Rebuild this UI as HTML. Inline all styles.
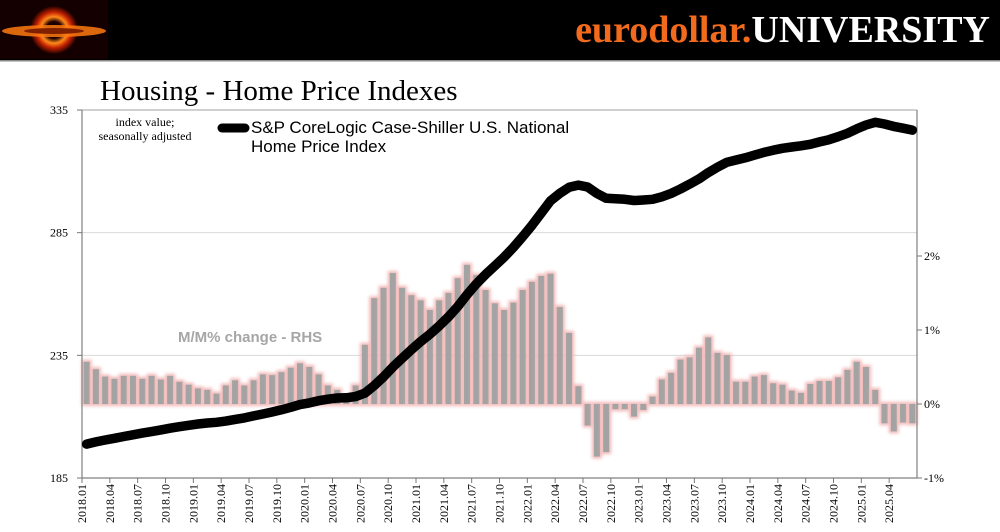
<!DOCTYPE html>
<html><head><meta charset="utf-8"><style>
html,body{margin:0;padding:0;background:#fff;width:1000px;height:532px;overflow:hidden}
svg{display:block}
</style></head><body>
<svg id="chart" width="1000" height="532" xmlns="http://www.w3.org/2000/svg">
<defs>
<radialGradient id="lg" cx="50%" cy="50%" r="50%"><stop offset="0" stop-color="#000"/><stop offset="0.35" stop-color="#200"/><stop offset="0.55" stop-color="#ff8a1a"/><stop offset="0.75" stop-color="#c02000"/><stop offset="1" stop-color="#1a0000"/></radialGradient>
<filter id="glow" x="-50%" y="-50%" width="200%" height="200%"><feGaussianBlur stdDeviation="1.5"/></filter>
</defs>
<rect x="0" y="0" width="1000" height="60" fill="#000"/>
<rect x="0" y="60" width="1000" height="1.5" fill="#888"/>
<g>
<rect x="0" y="0" width="108" height="59" fill="#140000"/>
<ellipse cx="54" cy="30" rx="24" ry="24" fill="url(#lg)"/>
<ellipse cx="54" cy="31" rx="52" ry="6" fill="#ff7a10" opacity="0.85"/>
<ellipse cx="54" cy="31" rx="30" ry="3" fill="#802000"/>
</g>
<text x="990" y="42" text-anchor="end" font-family="Liberation Serif, serif" font-weight="bold" font-size="38"><tspan fill="#f26a1b">eurodollar.</tspan><tspan fill="#fff">UNIVERSITY</tspan></text>
<text x="100" y="100" font-family="Liberation Serif, serif" font-size="29" fill="#000">Housing - Home Price Indexes</text>
<g id="grid"></g>
<g id="bars"></g>
<g id="axes"></g>
<g id="line"></g>
<text x="178" y="342" font-family="Liberation Sans, sans-serif" font-weight="bold" font-size="15" fill="#a6a6a6">M/M% change - RHS</text>
<text x="145" y="126" text-anchor="middle" font-family="Liberation Serif, serif" font-size="12">index value;</text>
<text x="145" y="140" text-anchor="middle" font-family="Liberation Serif, serif" font-size="12">seasonally adjusted</text>
<line x1="222" y1="128" x2="245" y2="128" stroke="#000" stroke-width="9" stroke-linecap="round"/>
<text x="251" y="133" font-family="Liberation Sans, sans-serif" font-size="17">S&amp;P CoreLogic Case-Shiller U.S. National</text>
<text x="251" y="152" font-family="Liberation Sans, sans-serif" font-size="17">Home Price Index</text>
</svg>
<script>
const categories = [];
for (let y = 2018; y <= 2025; y++) for (let m = 1; m <= 12; m++) { if (y === 2025 && m > 6) break; categories.push(y + '.' + String(m).padStart(2, '0')); }
const indexValues = [
198.8,199.7,200.5,201.2,201.9,202.6,203.3,203.9,204.6,205.3,205.9,206.5,
207.0,207.4,207.7,208.2,208.9,209.5,210.3,211.1,211.9,212.8,213.8,214.9,
215.6,216.5,217.1,217.6,217.7,218.2,219.6,222.7,226.2,230.2,233.8,237.3,
240.6,243.6,247.0,250.7,254.9,259.7,264.1,268.0,271.5,275.0,279.0,283.4,
288.0,293.0,298.0,301.0,303.5,304.4,303.6,301.0,299.0,298.8,298.6,298.1,
298.3,298.6,299.6,301.0,302.8,304.8,306.9,309.5,311.7,313.7,314.6,315.5,
316.6,317.7,318.6,319.4,319.9,320.4,321.0,322.0,322.9,324.1,325.5,327.3,
328.9,330.0,329.3,328.3,327.6,326.8];
const momChange = [
0.57,0.47,0.37,0.34,0.38,0.38,0.34,0.38,0.33,0.38,0.30,0.26,
0.21,0.19,0.14,0.25,0.32,0.25,0.32,0.40,0.39,0.43,0.49,0.55,
0.50,0.40,0.25,0.19,0.03,0.25,0.80,1.43,1.57,1.77,1.57,1.47,
1.40,1.27,1.40,1.50,1.70,1.88,1.74,1.54,1.36,1.27,1.37,1.54,
1.65,1.73,1.76,1.31,0.96,0.24,-0.29,-0.71,-0.65,-0.07,-0.07,-0.17,
-0.08,0.10,0.33,0.42,0.60,0.63,0.76,0.90,0.69,0.66,0.30,0.30,
0.37,0.39,0.28,0.26,0.18,0.15,0.27,0.31,0.31,0.36,0.46,0.57,
0.50,0.19,-0.26,-0.37,-0.25,-0.26];
const leftTicks = [185, 235, 285, 335];
const rightTicks = [-1, 0, 1, 2];
const rightTickLabels = ['-1%', '0%', '1%', '2%'];

const NS = 'http://www.w3.org/2000/svg';
const X0 = 82, X1 = 917, YT = 110, YB = 478;
const band = (X1 - X0) / categories.length;
const xTick = i => X0 + band * i;
const xMid = i => X0 + band * (i + 0.5);
const yL = v => YB - (v - 185) / 150 * (YB - YT);
const yR = v => 404 - v * 74;
function mk(tag, attrs, parent, text) {
  const e = document.createElementNS(NS, tag);
  for (const k in attrs) e.setAttribute(k, attrs[k]);
  if (text !== undefined) e.textContent = text;
  parent.appendChild(e); return e;
}
const grid = document.getElementById('grid'), bars = document.getElementById('bars'), axes = document.getElementById('axes'), lineG = document.getElementById('line');
leftTicks.forEach(v => {
  if (v > 185) {
    const g = mk('line', {x1: X0, x2: X1, y1: yL(v), y2: yL(v), stroke: v === 335 ? '#a0a0a0' : '#d9d9d9', 'stroke-width': 1}, grid);
    
    
  }
  const t = mk('text', {x: 68, y: yL(v) + 4, 'text-anchor': 'end', 'font-family': 'Liberation Serif, serif', 'font-size': 12}, axes, String(v));
  
  
  mk('line', {x1: X0 - 5, x2: X0, y1: yL(v), y2: yL(v), stroke: '#777'}, axes);
});
rightTicks.forEach((v, i) => {
  const t = mk('text', {x: 924, y: yR(v) + 4, 'font-family': 'Liberation Serif, serif', 'font-size': 12}, axes, rightTickLabels[i]);
  
  
  mk('line', {x1: X1, x2: X1 + 5, y1: yR(v), y2: yR(v), stroke: '#777'}, axes);
});
momChange.forEach((v, i) => {
  const x = xMid(i) - 3, y = Math.min(yR(v), yR(0)), h = Math.max(1, Math.abs(yR(v) - yR(0)));
  mk('rect', {x: x - 2, y: y - 2, width: 10, height: h + 4, fill: '#f0b0b0', filter: 'url(#glow)', opacity: 0.9}, bars);
  const r = mk('rect', {x: x, y: y, width: 6, height: h, fill: '#a3a3a3'}, bars);
  
  
});
const ax = mk('path', {d: `M${X0},${YT} V${YB} H${X1} V${YT}`, fill: 'none', stroke: '#808080', 'stroke-width': 1.2}, axes);


categories.forEach((c, i) => {
  if (i % 3 !== 0) return;
  mk('line', {x1: xTick(i), x2: xTick(i), y1: YB, y2: YB + 5, stroke: '#777'}, axes);
  const x = xTick(i) + 4, y = 484;
  const t = mk('text', {x: x, y: y, transform: `rotate(-90 ${x} ${y})`, 'text-anchor': 'end', 'font-family': 'Liberation Serif, serif', 'font-size': 12}, axes, c);
  
  
});
const d = indexValues.map((v, i) => (i ? 'L' : 'M') + xMid(i).toFixed(1) + ',' + yL(v).toFixed(1)).join(' ');
const p = mk('path', {d: d, fill: 'none', stroke: '#000', 'stroke-width': 9.5, 'stroke-linejoin': 'round', 'stroke-linecap': 'round'}, lineG);


</script>
</body></html>
